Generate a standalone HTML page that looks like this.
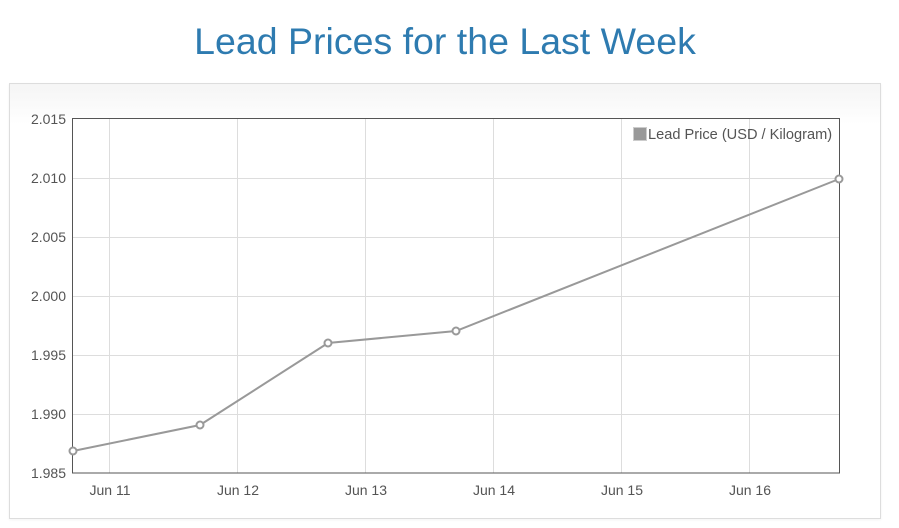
<!DOCTYPE html>
<html><head><style>
body{margin:0;width:899px;height:528px;background:#fff;overflow:hidden;font-family:"Liberation Sans",sans-serif;}
h1{position:absolute;top:20px;left:0;width:890px;margin:0;text-align:center;font-weight:normal;font-size:37.5px;color:#2e7bb0;}
.panel{position:absolute;left:9px;top:83px;width:870px;height:434px;border:1px solid #ddd;background:linear-gradient(#f5f5f5,#fff 40px);box-shadow:0 1px 3px rgba(0,0,0,0.05);}
svg{position:absolute;left:0;top:0;}
</style></head><body>
<h1>Lead Prices for the Last Week</h1>
<div class="panel"></div>
<svg width="899" height="528" font-family="Liberation Sans, sans-serif" font-size="14" fill="#545454">
<rect x="72" y="119" width="767" height="354" fill="#fff"/>
<g stroke="#ddd" stroke-width="1">
<line x1="72" y1="178.5" x2="839" y2="178.5"/>
<line x1="72" y1="237.5" x2="839" y2="237.5"/>
<line x1="72" y1="296.5" x2="839" y2="296.5"/>
<line x1="72" y1="355.5" x2="839" y2="355.5"/>
<line x1="72" y1="414.5" x2="839" y2="414.5"/>
<line x1="109.5" y1="119" x2="109.5" y2="473"/>
<line x1="237.5" y1="119" x2="237.5" y2="473"/>
<line x1="365.5" y1="119" x2="365.5" y2="473"/>
<line x1="493.5" y1="119" x2="493.5" y2="473"/>
<line x1="621.5" y1="119" x2="621.5" y2="473"/>
<line x1="749.5" y1="119" x2="749.5" y2="473"/>
</g>
<rect x="72.5" y="118.5" width="767" height="354.5" fill="none" stroke="#555" stroke-width="1"/>
<g text-anchor="end">
<text x="66" y="124">2.015</text>
<text x="66" y="183">2.010</text>
<text x="66" y="242">2.005</text>
<text x="66" y="301">2.000</text>
<text x="66" y="360">1.995</text>
<text x="66" y="419">1.990</text>
<text x="66" y="478">1.985</text>
</g>
<g text-anchor="middle">
<text x="110" y="495">Jun 11</text>
<text x="238" y="495">Jun 12</text>
<text x="366" y="495">Jun 13</text>
<text x="494" y="495">Jun 14</text>
<text x="622" y="495">Jun 15</text>
<text x="750" y="495">Jun 16</text>
</g>
<rect x="633.5" y="127.5" width="13" height="13" fill="#999" stroke="#ccc"/>
<text x="648" y="139" font-size="14.6">Lead Price (USD / Kilogram)</text>
<polyline points="73,451 200,425 328,343 456,331 839,179" fill="none" stroke="#999" stroke-width="2"/>
<g fill="#fff" stroke="#999" stroke-width="2">
<circle cx="73" cy="451" r="3.5"/><circle cx="200" cy="425" r="3.5"/><circle cx="328" cy="343" r="3.5"/><circle cx="456" cy="331" r="3.5"/><circle cx="839" cy="179" r="3.5"/>
</g>
</svg>
</body></html>
